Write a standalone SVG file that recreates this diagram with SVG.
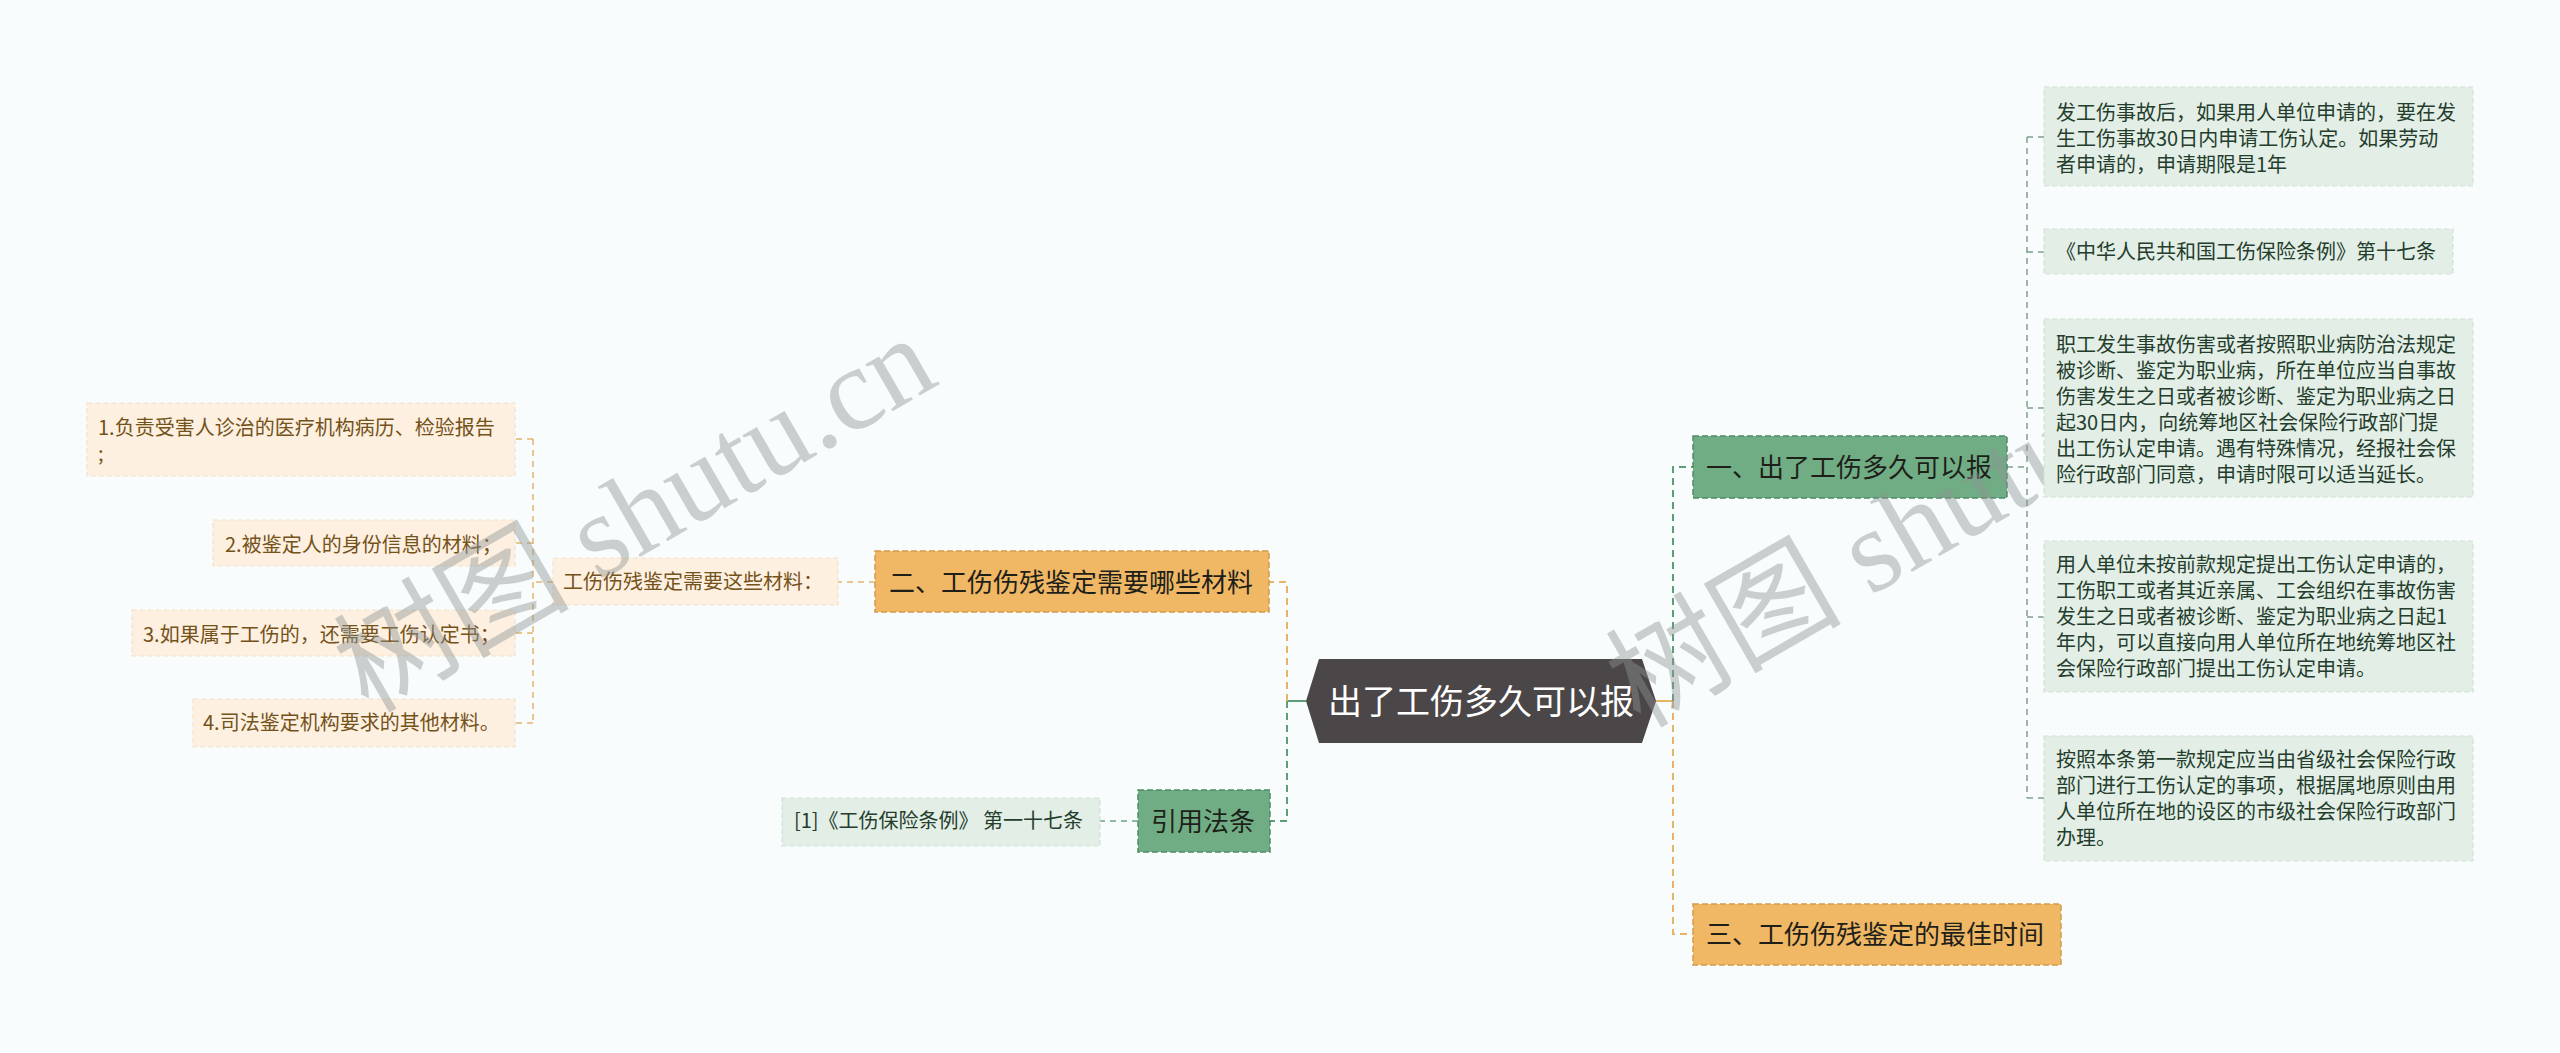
<svg xmlns="http://www.w3.org/2000/svg" width="2560" height="1053" viewBox="0 0 2560 1053">
<style>
.t{font-family:"Noto Sans CJK SC","Noto Sans",sans-serif}
.s20{font-size:20px}
.s26{font-size:26px}
.gm{fill:#70ad85;stroke:#4f8c66;stroke-width:1.5;stroke-dasharray:6 3}
.om{fill:#f0b865;stroke:#d39a48;stroke-width:1.5;stroke-dasharray:6 3}
.gl{fill:#e2eee6;stroke:#d2e2d7;stroke-width:1.2;stroke-dasharray:5 3}
.ol{fill:#fdf0e0;stroke:#f4e2c9;stroke-width:1.2;stroke-dasharray:5 3}
.gt{fill:#243d2c}
.ot{fill:#74521a}
.mt{fill:#1f1f1a}
.c{fill:none;stroke-width:2;stroke-dasharray:7 5}
.cg{stroke:#5d9e77}
.co{stroke:#e9b466}
.cl{fill:none;stroke-width:1.5;stroke-dasharray:6 5}
.wm{font-family:"Liberation Serif","Noto Sans CJK SC",serif;font-size:118px;fill:#8e9494;fill-opacity:0.44}
</style>
<rect x="0" y="0" width="2560" height="1053" fill="#f8fcfc"/>

<g id="connectors">
  <path d="M1306,701 H1287" fill="none" stroke="#5d9e77" stroke-width="2"/>
  <path class="c co" d="M1287,701 V582 H1269"/>
  <path class="c cg" d="M1287,701 V821 H1270"/>
  <path d="M1656,701 H1673" fill="none" stroke="#e9b466" stroke-width="2"/>
  <path class="c cg" d="M1673,701 V467 H1693"/>
  <path class="c co" d="M1673,701 V934 H1693"/>
  <path class="cl" stroke="#7f9f8d" d="M2007,467 H2027 M2027,137 V798 M2027,137 H2044 M2027,252 H2044 M2027,408 H2044 M2027,617 H2044 M2027,798 H2044"/>
  <path class="cl" stroke="#e2b46e" d="M875,582 H838"/>
  <path class="cl" stroke="#e2b46e" d="M553,582 H533 M533,439 V723 M533,439 H515 M533,543 H515 M533,633 H515 M533,723 H515"/>
  <path class="cl" stroke="#6aa583" d="M1138,821 H1100"/>
</g>

<g id="root">
  <polygon points="1306,701 1319,659 1642,659 1656,701 1642,743 1319,743" fill="#4b4647"/>
  <text class="t" x="1481" y="714" font-size="34" fill="#ffffff" text-anchor="middle">出了工伤多久可以报</text>
</g>

<g id="n1">
  <rect class="gm" x="1693" y="436" width="314" height="62"/>
  <text class="t s26 mt" x="1706" y="477">一、出了工伤多久可以报</text>
</g>
<g id="n2">
  <rect class="om" x="875" y="551" width="394" height="61"/>
  <text class="t s26 mt" x="889" y="592">二、工伤伤残鉴定需要哪些材料</text>
</g>
<g id="n3">
  <rect class="om" x="1693" y="904" width="368" height="61"/>
  <text class="t s26 mt" x="1706" y="944">三、工伤伤残鉴定的最佳时间</text>
</g>
<g id="n4">
  <rect class="gm" x="1138" y="790" width="132" height="62"/>
  <text class="t s26 mt" x="1151" y="831">引用法条</text>
</g>
<g id="cite">
  <rect class="gl" x="782" y="798" width="318" height="48"/>
  <text class="t s20 gt" x="794" y="828">[1]《工伤保险条例》 第一十七条</text>
</g>

<g id="m0">
  <rect class="ol" x="553" y="558" width="285" height="47"/>
  <text class="t s20 ot" x="563" y="589">工伤伤残鉴定需要这些材料：</text>
</g>
<g id="m1">
  <rect class="ol" x="87" y="403" width="428" height="73"/>
  <text class="t s20 ot" x="98" y="435">1.负责受害人诊治的医疗机构病历、检验报告</text>
  <text class="t s20 ot" x="98" y="461">;</text>
</g>
<g id="m2">
  <rect class="ol" x="213" y="520" width="302" height="46"/>
  <text class="t s20 ot" x="225" y="552">2.被鉴定人的身份信息的材料；</text>
</g>
<g id="m3">
  <rect class="ol" x="132" y="610" width="383" height="46"/>
  <text class="t s20 ot" x="143" y="642">3.如果属于工伤的，还需要工伤认定书；</text>
</g>
<g id="m4">
  <rect class="ol" x="193" y="699" width="322" height="48"/>
  <text class="t s20 ot" x="203" y="730">4.司法鉴定机构要求的其他材料。</text>
</g>

<g id="watermark">
  <text class="wm" transform="translate(368,714) rotate(-30)">树图 shutu.cn</text>
  <text class="wm" transform="translate(1640,729) rotate(-30)">树图 shutu.cn</text>
</g>

<g id="r1">
  <rect class="gl" x="2044" y="87" width="429" height="99"/>
  <text class="t s20 gt" x="2056" y="120">发工伤事故后，如果用人单位申请的，要在发</text>
  <text class="t s20 gt" x="2056" y="146">生工伤事故30日内申请工伤认定。如果劳动</text>
  <text class="t s20 gt" x="2056" y="172">者申请的，申请期限是1年</text>
</g>
<g id="r2">
  <rect class="gl" x="2044" y="229" width="409" height="45"/>
  <text class="t s20 gt" x="2056" y="259">《中华人民共和国工伤保险条例》第十七条</text>
</g>
<g id="r3">
  <rect class="gl" x="2044" y="319" width="429" height="178"/>
  <text class="t s20 gt" x="2056" y="352">职工发生事故伤害或者按照职业病防治法规定</text>
  <text class="t s20 gt" x="2056" y="378">被诊断、鉴定为职业病，所在单位应当自事故</text>
  <text class="t s20 gt" x="2056" y="404">伤害发生之日或者被诊断、鉴定为职业病之日</text>
  <text class="t s20 gt" x="2056" y="430">起30日内，向统筹地区社会保险行政部门提</text>
  <text class="t s20 gt" x="2056" y="456">出工伤认定申请。遇有特殊情况，经报社会保</text>
  <text class="t s20 gt" x="2056" y="482">险行政部门同意，申请时限可以适当延长。</text>
</g>
<g id="r4">
  <rect class="gl" x="2044" y="541" width="429" height="151"/>
  <text class="t s20 gt" x="2056" y="572">用人单位未按前款规定提出工伤认定申请的，</text>
  <text class="t s20 gt" x="2056" y="598">工伤职工或者其近亲属、工会组织在事故伤害</text>
  <text class="t s20 gt" x="2056" y="624">发生之日或者被诊断、鉴定为职业病之日起1</text>
  <text class="t s20 gt" x="2056" y="650">年内，可以直接向用人单位所在地统筹地区社</text>
  <text class="t s20 gt" x="2056" y="676">会保险行政部门提出工伤认定申请。</text>
</g>
<g id="r5">
  <rect class="gl" x="2044" y="736" width="429" height="125"/>
  <text class="t s20 gt" x="2056" y="767">按照本条第一款规定应当由省级社会保险行政</text>
  <text class="t s20 gt" x="2056" y="793">部门进行工伤认定的事项，根据属地原则由用</text>
  <text class="t s20 gt" x="2056" y="819">人单位所在地的设区的市级社会保险行政部门</text>
  <text class="t s20 gt" x="2056" y="845">办理。</text>
</g>
</svg>
